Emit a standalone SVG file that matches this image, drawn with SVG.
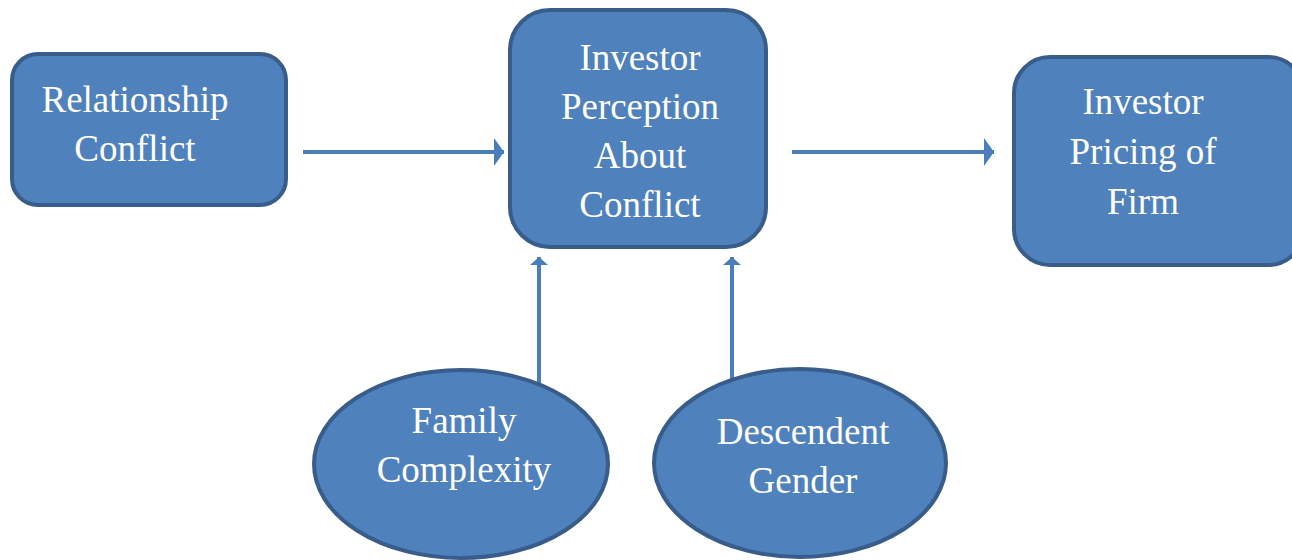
<svg xmlns="http://www.w3.org/2000/svg" width="1292" height="560" viewBox="0 0 1292 560">
<style>
.node{fill:#4f81bd;stroke:#385d8a;stroke-width:4}
.lbl{font-family:"Liberation Serif","Times New Roman",serif;font-size:37px;fill:#ffffff;text-anchor:middle}
.conn{stroke:#4a7ebb;stroke-width:4;fill:none}
</style>
<defs>
<marker id="ahh" viewBox="0 0 10 30" refX="10" refY="15" markerWidth="10" markerHeight="30" markerUnits="userSpaceOnUse" orient="auto">
<path d="M0,1 L10,15 L0,29 Z" fill="#4a7ebb"/>
</marker>
<marker id="ahv" viewBox="0 0 8 20" refX="8" refY="10" markerWidth="8" markerHeight="20" markerUnits="userSpaceOnUse" orient="auto">
<path d="M0,1 L8,10 L0,19 Z" fill="#4a7ebb"/>
</marker>
</defs>
<rect width="1292" height="560" fill="#ffffff"/>
<g id="connectors">
<line class="conn" x1="303" y1="152" x2="504" y2="152" marker-end="url(#ahh)"/>
<line class="conn" x1="792" y1="152" x2="994" y2="152" marker-end="url(#ahh)"/>
<line class="conn" x1="539" y1="383" x2="539" y2="257" marker-end="url(#ahv)"/>
<line class="conn" x1="732" y1="380" x2="732" y2="257" marker-end="url(#ahv)"/>
</g>
<g id="relationship-conflict">
<rect class="node" x="12" y="54" width="274" height="151" rx="26" ry="26"/>
<text class="lbl" x="135" y="112">Relationship</text>
<text class="lbl" x="135" y="161">Conflict</text>
</g>
<g id="investor-perception">
<rect class="node" x="510" y="10" width="256" height="237" rx="40" ry="40"/>
<text class="lbl" x="640" y="70">Investor</text>
<text class="lbl" x="640" y="119">Perception</text>
<text class="lbl" x="640" y="168">About</text>
<text class="lbl" x="640" y="217">Conflict</text>
</g>
<g id="investor-pricing">
<rect class="node" x="1014" y="57" width="290" height="208" rx="36" ry="36"/>
<text class="lbl" x="1143" y="114">Investor</text>
<text class="lbl" x="1143" y="164">Pricing of</text>
<text class="lbl" x="1143" y="214">Firm</text>
</g>
<g id="family-complexity">
<ellipse class="node" cx="461" cy="464" rx="147" ry="94"/>
<text class="lbl" x="464" y="433">Family</text>
<text class="lbl" x="464" y="482">Complexity</text>
</g>
<g id="descendent-gender">
<ellipse class="node" cx="800" cy="463" rx="146" ry="94"/>
<text class="lbl" x="803" y="444">Descendent</text>
<text class="lbl" x="803" y="493">Gender</text>
</g>
</svg>
